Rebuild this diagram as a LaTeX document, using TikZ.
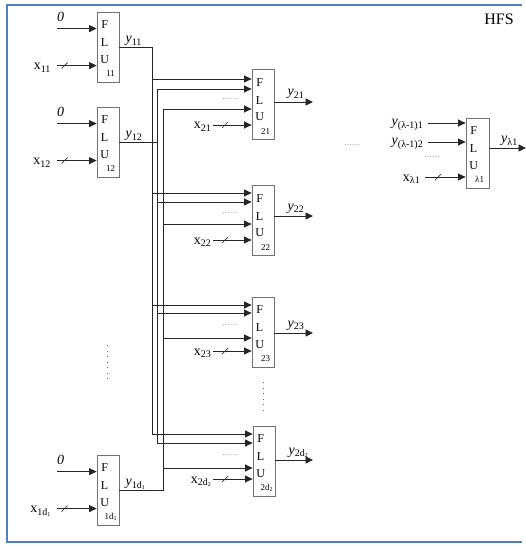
\documentclass[tikz,border=0pt]{standalone}
\usepackage{fontspec}
\setmainfont{Liberation Serif}
\usetikzlibrary{arrows.meta,calc}
\definecolor{framec}{RGB}{79,129,189}
\newcommand\sbx[1]{\raisebox{-2.5pt}{\fontsize{10}{10}\selectfont #1}}
\newcommand\sixdots{.\kern0.9pt.\kern0.9pt.\kern0.9pt.\kern0.9pt.\kern0.9pt.}
\newcommand\flu[5]{%
 \node[box, minimum width=#5] (#1) at (#2,#3) {};
 \node[lt] (#1f) at ($(#1.north west)+(8,13)$) {F};
 \node[lt] (#1l) at ($(#1.north west)+(8,31)$) {L};
 \node[lt] (#1u) at ($(#1.north west)+(8,48)$) {U};
 \node[idx] (#1i) at ($(#1.north west)+(14,62)$) {#4};
}
\newcommand\lone[3]{%
 \flu{#1}{108}{#2}{#3}{22pt}
 \coordinate (#1z) at ($(#1.north west)+(-40,17)$);
 \draw[arr] (#1z) -- (#1z -| #1.west);
 \node[lbl] (#1zl) at ($(#1.north west)+(-36,5)$) {\textit{0}};
 \coordinate (#1x) at ($(#1.north west)+(-40,54)$);
 \draw[arr] (#1x) -- (#1x -| #1.west);
 \draw[slash] ($(#1x)+(5,3)$) -- ($(#1x)+(11,-3)$);
 \node[lbl, anchor=base east] (#1xl) at ($(#1x)+(-6,4)$) {x\sbx{#3}};
 \coordinate (#1o) at ($(#1.north east)+(0,36)$);
 \node[lbl, anchor=base west] (#1yl) at ($(#1o)+(6,-5)$) {\textit{y}\sbx{#3}};
}
\newcommand\ltwo[9]{%
 \flu{#1}{#2}{#3}{#9}{22pt}
 \coordinate (#1a) at (152,#4); \draw[arr] (#1a) -- (#1a -| #1.west);
 \coordinate (#1b) at (157,#5); \draw[arr] (#1b) -- (#1b -| #1.west);
 \coordinate (#1c) at (163,#6); \draw[arr] (#1c) -- (#1c -| #1.west);
 \node[dots] (#1d) at (230,{(#5+#6)/2}) {\sixdots};
 \coordinate (#1x) at (213,#7); \draw[arr] (#1x) -- (#1x -| #1.west);
 \draw[slash] ($(#1x)+(9,3)$) -- ($(#1x)+(15,-3)$);
 \node[lbl, anchor=base east] (#1xl) at ($(#1x)+(-2,4)$) {x\sbx{#9}};
 \coordinate (#1e) at (313,#8);
 \draw[arr] (#1.east |- #1e) -- (#1e);
 \node[lbl, anchor=base west] (#1yl) at ($(#1.east |- #1e)+(13,-6)$) {\textit{y}\sbx{#9}};
}
\begin{document}
\begin{tikzpicture}[x=1pt,y=-1pt,
 box/.style={draw=black!55, line width=0.8pt, minimum height=70pt, inner sep=0pt},
 ln/.style={draw=black!85, line width=0.9pt},
 arr/.style={ln, -{Triangle[length=7.5pt,width=7pt]}},
 lt/.style={font=\fontsize{12}{12}\selectfont, inner sep=0pt},
 idx/.style={font=\fontsize{9}{9}\selectfont, inner sep=0pt},
 lbl/.style={font=\fontsize{14}{14}\selectfont, inner sep=0pt},
 dots/.style={font=\fontsize{7}{7}\selectfont, inner sep=0pt, text=black!70},
 slash/.style={draw=black!80, line width=0.7pt},
 vdots/.style={draw=black!60, line width=1pt, dash pattern=on 1pt off 4.5pt},
 frame/.style={draw=framec, line width=1.6pt}
]
\useasboundingbox (0,0) rectangle (526,548);
\draw[frame] (522,5) -- (7,5) -- (7,542) -- (522,542);
\node[font=\fontsize{16}{16}\selectfont, inner sep=0pt] (H) at (499,19) {HFS};

% layer 1
\lone{A1}{47}{11}
\lone{A2}{142}{12}
\lone{A3}{490}{1d\raisebox{-1pt}{\fontsize{6}{6}\selectfont 1}}

% layer 2
\ltwo{B1}{263}{104.5}{79}{89}{109}{125}{102}{21}
\ltwo{B2}{263}{220.5}{193}{202}{224}{240}{216}{22}
\ltwo{B3}{263}{332}{305}{313}{338}{351}{333}{23}
\ltwo{B4}{264}{461}{434}{443}{468}{479}{460}{2d\raisebox{-1pt}{\fontsize{6}{6}\selectfont 2}}

% buses
\coordinate (bus1x) at (152,0);
\coordinate (bus2x) at (157,0);
\draw[ln] (A1o) -- (A1o -| bus1x) -- (B4a);
\draw[ln] (B1b) -- (B4b);
\draw[ln] (A2o) -- (A2o -| bus2x);
\draw[ln] (B1c) -- (B1c |- A3o) -- (A3o);

% vertical dots
\draw[vdots] (107,345) -- (107,380);
\draw[vdots] (263,382) -- (263,415);

% middle dots
\node[dots] (M) at (352,145) {\sixdots};

% lambda block
\flu{C}{477.5}{153}{λ1}{23pt}
\coordinate (Ca) at (428,123); \draw[arr] (Ca) -- (Ca -| C.west);
\coordinate (Cb) at (428,142); \draw[arr] (Cb) -- (Cb -| C.west);
\node[dots] (Cd) at (432,157) {\sixdots};
\coordinate (Cx) at (425,177); \draw[arr] (Cx) -- (Cx -| C.west);
\draw[slash] ($(Cx)+(10,3)$) -- ($(Cx)+(16,-3)$);
\node[lbl, anchor=base east] (Cal) at (423,126) {\textit{y}\sbx{(λ-1)1}};
\node[lbl, anchor=base east] (Cbl) at (423,145) {\textit{y}\sbx{(λ-1)2}};
\node[lbl, anchor=base east] (Cxl) at (420,181) {x\sbx{λ1}};
\coordinate (Ce) at (526,148); \draw[arr] (C.east |- Ce) -- (Ce);
\node[lbl, anchor=base west] (Cyl) at (501,143) {\textit{y}\sbx{λ1}};
\end{tikzpicture}
\end{document}
